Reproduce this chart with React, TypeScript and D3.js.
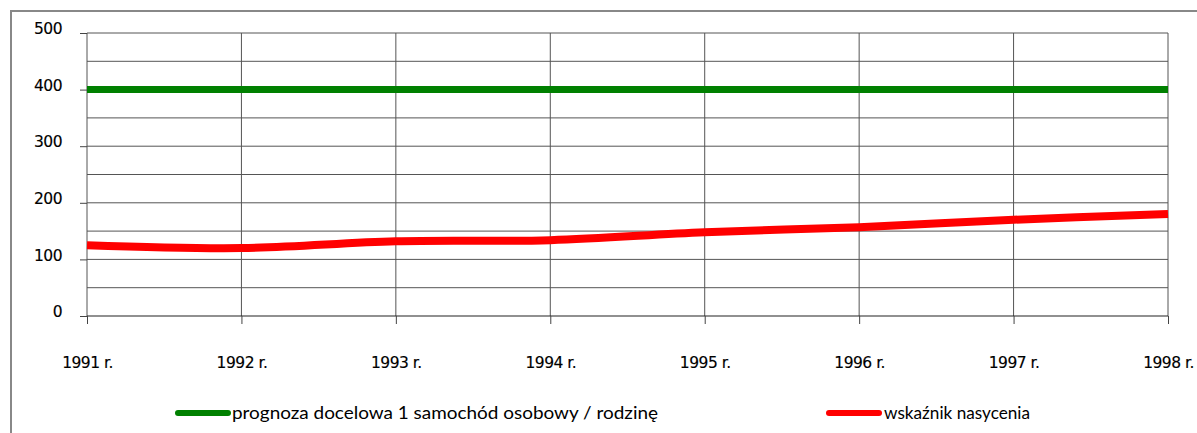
import { useRef, useEffect } from 'react';
import * as d3 from 'd3';

const years = ['1991 r.', '1992 r.', '1993 r.', '1994 r.', '1995 r.', '1996 r.', '1997 r.', '1998 r.'];
const target = [400, 400, 400, 400, 400, 400, 400, 400];
const saturation = [125, 120, 132, 134, 148, 157, 170, 180];
const yTicks = [0, 100, 200, 300, 400, 500];
const yGrid = [50, 100, 150, 200, 250, 300, 350, 400, 450, 500];
const seriesNames = ['prognoza docelowa 1 samochód osobowy / rodzinę', 'wskaźnik nasycenia'];

const width = 1197;
const height = 433;
const marginLeft = 87;
const marginRight = 29;
const marginTop = 33;
const marginBottom = 117;

export default function App() {
  const gx = useRef<SVGGElement>(null);
  const gy = useRef<SVGGElement>(null);

  const x = d3.scalePoint(years, [marginLeft, width - marginRight]);
  const y = d3.scaleLinear([0, 500], [height - marginBottom, marginTop]);

  const line = d3
    .line<number>()
    .x((_, i) => x(years[i]) as number)
    .y((d) => y(d))
    .curve(d3.curveCatmullRom.alpha(0.5));

  useEffect(() => {
    if (gx.current) {
      const g = d3.select(gx.current);
      g.call(d3.axisBottom(x).tickSize(8).tickPadding(33));
      g.select('.domain').remove();
      g.selectAll('line').attr('stroke', '#444');
      g.selectAll('text')
        .attr('font-family', 'DejaVu Sans')
        .attr('font-size', 15.5)
        .attr('letter-spacing', -0.5)
        .attr('stroke', '#000')
        .attr('stroke-width', 0.15)
        .attr('fill', '#000');
    }
  }, [x]);

  useEffect(() => {
    if (gy.current) {
      const g = d3.select(gy.current);
      g.call(d3.axisLeft(y).tickValues(yTicks).tickSize(7).tickPadding(18));
      g.select('.domain').remove();
      g.selectAll('line').attr('stroke', '#444');
      g.selectAll('text')
        .attr('font-family', 'DejaVu Sans')
        .attr('font-size', 15.5)
        .attr('letter-spacing', -0.5)
        .attr('dy', '0.05em')
        .attr('stroke', '#000')
        .attr('stroke-width', 0.15)
        .attr('fill', '#000');
    }
  }, [y]);

  const legendFont = 'Lato, "Open Sans", sans-serif';

  return (
    <svg width={width} height={height} style={{ position: 'absolute', left: 0, top: 0, background: '#fff' }}>
      <path d={`M11,${height} V11 H${width}`} fill="none" stroke="#888" strokeWidth={2} />
      {yGrid.map((v) => (
        <line key={v} x1={marginLeft} x2={width - marginRight} y1={y(v)} y2={y(v)} stroke="#555" strokeWidth={1} />
      ))}
      {years.map((yr) => (
        <line key={yr} x1={x(yr)} x2={x(yr)} y1={marginTop} y2={y(0)} stroke="#555" strokeWidth={1} />
      ))}
      <line x1={marginLeft} x2={width - marginRight} y1={y(0)} y2={y(0)} stroke="#222" strokeWidth={1.2} />
      <g ref={gx} transform={`translate(0, ${y(0)})`} />
      <g ref={gy} transform={`translate(${marginLeft}, 0)`} />
      <path d={line(target) ?? ''} fill="none" stroke="#008000" strokeWidth={7} />
      <path d={line(saturation) ?? ''} fill="none" stroke="#ff0000" strokeWidth={8} />
      <line x1={178} x2={228} y1={413} y2={413} stroke="#008000" strokeWidth={6} strokeLinecap="round" />
      <text x={232} y={419} fontFamily={legendFont} fontSize={18} textLength={426} lengthAdjust="spacingAndGlyphs" fill="#000">
        {seriesNames[0]}
      </text>
      <line x1={829} x2={879} y1={413} y2={413} stroke="#ff0000" strokeWidth={6} strokeLinecap="round" />
      <text x={884} y={419} fontFamily={legendFont} fontSize={18} textLength={146} lengthAdjust="spacingAndGlyphs" fill="#000">
        {seriesNames[1]}
      </text>
    </svg>
  );
}
